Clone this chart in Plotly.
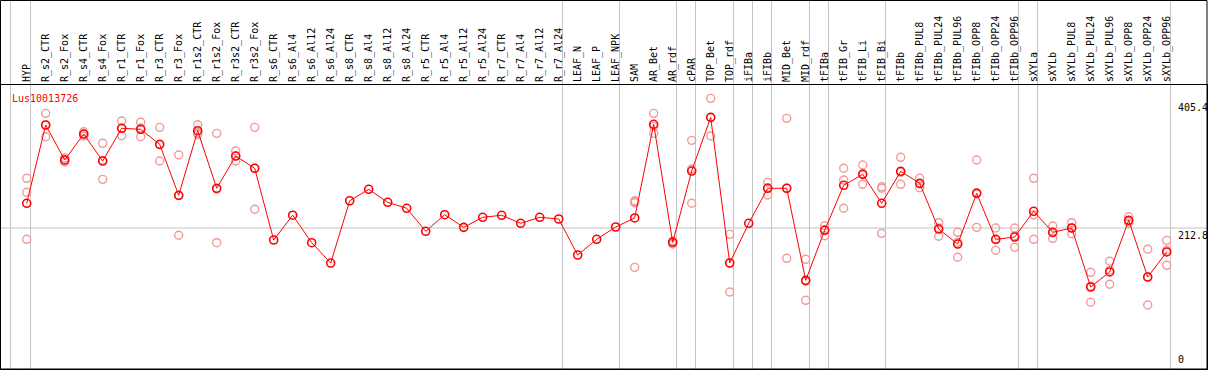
import plotly.graph_objects as go

categories = ["HYP", "R_s2_CTR", "R_s2_Fox", "R_s4_CTR", "R_s4_Fox", "R_r1_CTR", "R_r1_Fox",
              "R_r3_CTR", "R_r3_Fox", "R_r1s2_CTR", "R_r1s2_Fox", "R_r3s2_CTR", "R_r3s2_Fox",
              "R_s6_CTR", "R_s6_Al4", "R_s6_Al12", "R_s6_Al24", "R_s8_CTR", "R_s8_Al4",
              "R_s8_Al12", "R_s8_Al24", "R_r5_CTR", "R_r5_Al4", "R_r5_Al12", "R_r5_Al24",
              "R_r7_CTR", "R_r7_Al4", "R_r7_Al12", "R_r7_Al24", "LEAF_N", "LEAF_P", "LEAF_NPK",
              "SAM", "AR_Bet", "AR_rdf", "cPAR", "TOP_Bet", "TOP_rdf", "iFIBa", "iFIBb",
              "MID_Bet", "MID_rdf", "tFIBa", "tFIB_Gr", "tFIB_Li", "tFIB_Bi", "tFIBb",
              "tFIBb_PUL8", "tFIBb_PUL24", "tFIBb_PUL96", "tFIBb_OPP8", "tFIBb_OPP24",
              "tFIBb_OPP96", "sXYLa", "sXYLb", "sXYLb_PUL8", "sXYLb_PUL24", "sXYLb_PUL96",
              "sXYLb_OPP8", "sXYLb_OPP24", "sXYLb_OPP96"]

means = [249.5, 365.8, 313.8, 352.4, 312.3, 360.9, 359.4, 337.1, 261.4, 357.3, 271.8, 319.7, 301.5,
         195.0, 231.8, 191.0, 160.8, 253.3, 270.3, 251.0, 242.1, 207.9, 232.6, 213.8, 228.7,
         231.7, 219.8, 228.7, 226.2, 172.7, 196.0, 214.3,
         227.7, 366.8, 191.6, 297.4, 377.2, 160.8, 219.8, 271.8, 271.8, 135.1, 209.4, 276.2,
         292.5, 249.5, 297.0, 279.2, 211.3, 189.0, 264.3, 196.0, 199.4, 237.6, 206.4, 212.8,
         125.2, 147.5, 224.2, 140.0, 177.2]

N = None
rep_a = [286.6, 383.1, 316.8, 355.8, 338.6, 371.7, 369.8, 362.3, 321.2, 366.2, 353.4, 327.1, 362.3,
         N, N, N, N, N, N, N, N, N, N, N, N, N, N, N, N, N, N, N,
         253.3, 383.1, 193.5, 343.0, 405.4, 203.4, N, 280.7, 375.7, 166.3, 216.2, 301.5,
         306.4, 274.1, 317.8, 286.6, 220.7, 206.4, 313.8, 212.8, 212.8, 286.6, 215.8, 220.7,
         147.0, 163.4, 229.6, 181.2, 194.5]
rep_b = [265.8, 348.4, 310.8, 349.4, 285.1, 349.9, 348.4, 312.3, 202.0, 351.9, 191.0, 312.3, 240.6,
         N, N, N, N, N, N, N, N, N, N, N, N, N, N, N, N, N, N, N,
         250.4, 353.4, 189.0, 249.5, 349.4, 117.8, N, 261.8, 167.8, 105.4, 201.4, 284.1,
         277.7, 271.8, 277.7, 272.6, 200.5, 169.3, 213.8, 179.7, 184.1, 232.1, 197.5, 204.3,
         102.5, 129.2, 223.2, 98.5, 157.4]
rep_c = [196.0, 365.8, 313.8, 352.4, 313.3, 360.9, 361.3, 336.5, 260.8, 353.9, 270.7, 319.7, 301.5,
         N, N, N, N, N, N, N, N, N, N, N, N, N, N, N, N, N, N, N,
         154.4, 363.8, 191.6, 300.4, 376.6, 161.3, N, 272.6, 271.8, 133.7, 210.3, 242.1,
         293.4, 204.9, 295.5, 278.1, 212.8, 191.6, 265.2, 195.4, 201.4, 196.0, 205.8, 213.2,
         126.2, 150.0, 220.2, 140.5, 179.7]
rep_d = [N] * 32 + [252.0] + [N] * 28

group_ends = ["HYP", "R_r7_Al24", "LEAF_NPK", "AR_rdf", "cPAR", "TOP_rdf", "iFIBa", "iFIBb",
              "MID_rdf", "tFIBa", "tFIB_Bi", "tFIBb_OPP96", "sXYLa", "sXYLb_OPP96"]
gene = "Lus10013726"
y_ticks = [405.4, 212.8, 0]
y_tick_text = ["405.4", "212.8", "0"]

W, H = 1209, 370
ML, MR, MT, MB = 1, 2, 85, 1
PW = W - ML - MR
PH = H - MT - MB
STEP = 19.0
X0PX = 26.7
XMIN = -(X0PX - ML) / STEP
XMAX = XMIN + PW / STEP
YMIN, YMAX = 3.4, 425.2

xs = list(range(len(categories)))
mono = "DejaVu Sans Mono"
RED = "#ff0000"
PINK = "#f09a9a"

fig = go.Figure()
rep_x, rep_y = [], []
for reps in (rep_a, rep_b, rep_c, rep_d):
    for i, v in enumerate(reps):
        if v is not None:
            rep_x.append(i)
            rep_y.append(v)
fig.add_trace(go.Scatter(x=rep_x, y=rep_y, mode="markers",
                         marker=dict(symbol="circle-open", size=8, color=PINK, line=dict(width=1.4)),
                         hoverinfo="skip", showlegend=False))
fig.add_trace(go.Scatter(x=xs, y=means, mode="lines+markers",
                         line=dict(color=RED, width=1),
                         marker=dict(symbol="circle-open", size=8, color=RED, line=dict(width=1.6)),
                         showlegend=False))

top_paper = (H - MB - 0.5) / PH
shapes = []
for name in group_ends:
    gx = categories.index(name) + 0.2
    shapes.append(dict(type="line", xref="x", yref="paper", x0=gx, x1=gx, y0=0, y1=top_paper,
                       line=dict(color="#c4c4c4", width=1), layer="below"))
gx = -0.85
shapes.append(dict(type="line", xref="x", yref="paper", x0=gx, x1=gx, y0=0, y1=top_paper,
                   line=dict(color="#c4c4c4", width=1), layer="below"))
shapes.append(dict(type="line", xref="paper", yref="y", x0=0, x1=1, y0=y_ticks[1], y1=y_ticks[1],
                   line=dict(color="#c4c4c4", width=1), layer="below"))
shapes.append(dict(type="rect", xref="paper", yref="paper", x0=-0.5 / PW, x1=1, y0=0, y1=top_paper,
                   line=dict(color="black", width=1)))

annotations = [dict(text=gene, xref="paper", yref="paper", x=(10 - ML) / PW, y=(H - MB - 91) / PH,
                    xanchor="left", yanchor="top", showarrow=False,
                    font=dict(family=mono, size=10, color=RED))]
for v, t in zip(y_ticks, y_tick_text):
    ys = -2 if v == y_ticks[0] else 0
    if v < YMIN:
        annotations.append(dict(text=t, xref="paper", yref="paper", x=(1176 - ML) / PW,
                                y=(H - MB - 367) / PH, xanchor="left", yanchor="bottom",
                                showarrow=False, font=dict(family=mono, size=10, color="black")))
    else:
        annotations.append(dict(text=t, xref="paper", yref="y", x=(1176 - ML) / PW, y=v,
                                xanchor="left", yanchor="top", yshift=ys, showarrow=False,
                                font=dict(family=mono, size=10, color="black")))

fig.update_layout(
    width=W, height=H, margin=dict(l=ML, r=MR, t=MT, b=MB, pad=0),
    paper_bgcolor="white", plot_bgcolor="white",
    xaxis=dict(range=[XMIN, XMAX], side="top", tickmode="array", tickvals=xs, ticktext=categories,
               tickangle=-90, showgrid=False, zeroline=False, ticks="", showline=True,
               linecolor="black", linewidth=1, mirror=True,
               tickfont=dict(family=mono, size=10, color="black")),
    yaxis=dict(range=[YMIN, YMAX], showgrid=False, zeroline=False, showticklabels=False,
               ticks="", showline=True, linecolor="black", linewidth=1, mirror=True),
    shapes=shapes, annotations=annotations,
)
fig.write_html("out.html", config={"displayModeBar": False},
               post_script="document.body.style.margin='0';document.body.style.overflow='hidden';")
